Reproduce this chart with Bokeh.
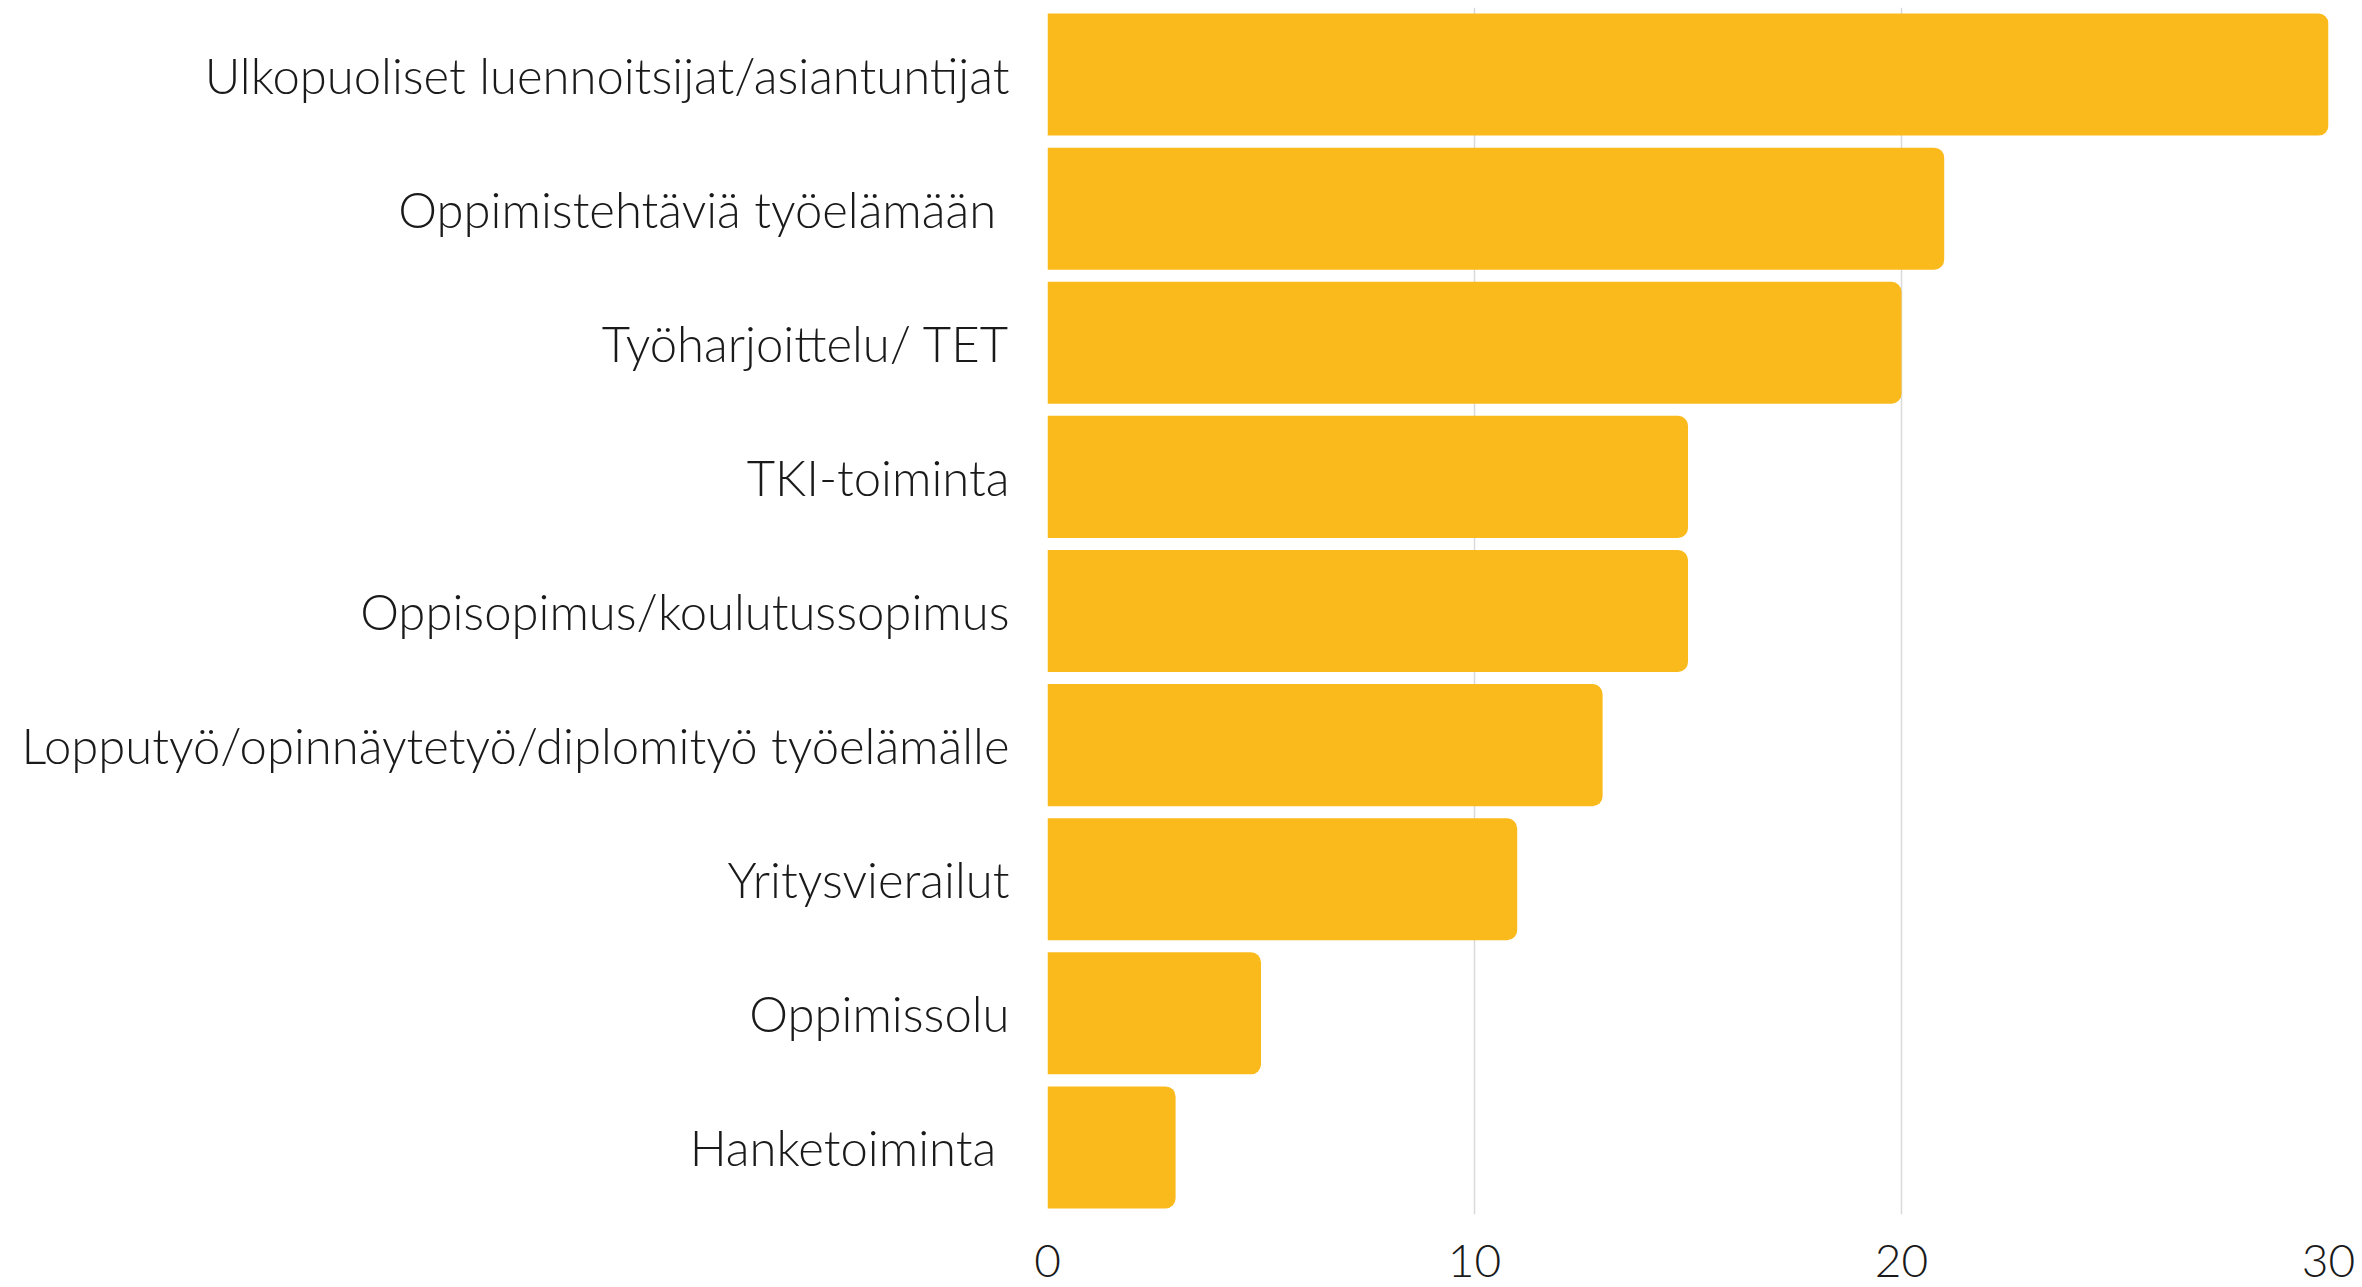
from bokeh.plotting import figure
from bokeh.models import Range1d, FactorRange, FixedTicker
from bokeh.embed import file_html
from bokeh.resources import INLINE

categories = [
    "Ulkopuoliset luennoitsijat/asiantuntijat",
    "Oppimistehtäviä työelämään ",
    "Työharjoittelu/ TET",
    "TKI-toiminta",
    "Oppisopimus/koulutussopimus",
    "Lopputyö/opinnäytetyö/diplomityö työelämälle",
    "Yritysvierailut",
    "Oppimissolu",
    "Hanketoiminta ",
]
values = [30, 21, 20, 15, 15, 13, 11, 5, 3]
x_ticks = [0, 10, 20, 30]

FONT = "'Lato Light', Lato"
TEXT_COLOR = "#1a1a1a"
BAR_COLOR = "#FBBA1B"
GRID_COLOR = "#d9d9d9"

p = figure(
    width=2362,
    height=1287,
    y_range=FactorRange(factors=list(reversed(categories))),
    x_range=Range1d(0, 30),
    output_backend="svg",
    toolbar_location=None,
    min_border_left=1047,
    min_border_right=34,
    min_border_top=7,
    min_border_bottom=73,
)

p.hbar(y=categories, right=values, left=0, height=0.91,
       fill_color=BAR_COLOR, line_color=None,
       border_radius=(0, 10, 10, 0))

p.outline_line_color = None
p.ygrid.grid_line_color = None
p.xgrid.ticker = FixedTicker(ticks=x_ticks)
p.xgrid.grid_line_color = GRID_COLOR
p.xgrid.grid_line_width = 1.5

p.xaxis.ticker = FixedTicker(ticks=x_ticks)
p.xaxis.axis_line_color = None
p.xaxis.major_tick_line_color = None
p.xaxis.minor_tick_line_color = None
p.xaxis.major_label_text_font = FONT
p.xaxis.major_label_text_font_size = "46px"
p.xaxis.major_label_text_color = TEXT_COLOR
p.xaxis.major_label_standoff = 24

p.yaxis.axis_line_color = None
p.yaxis.major_tick_line_color = None
p.yaxis.minor_tick_line_color = None
p.yaxis.major_label_text_font = FONT
p.yaxis.major_label_text_font_size = "49px"
p.yaxis.major_label_text_color = TEXT_COLOR
p.yaxis.major_label_standoff = 32

open("out.html", "w").write(file_html(p, INLINE))
